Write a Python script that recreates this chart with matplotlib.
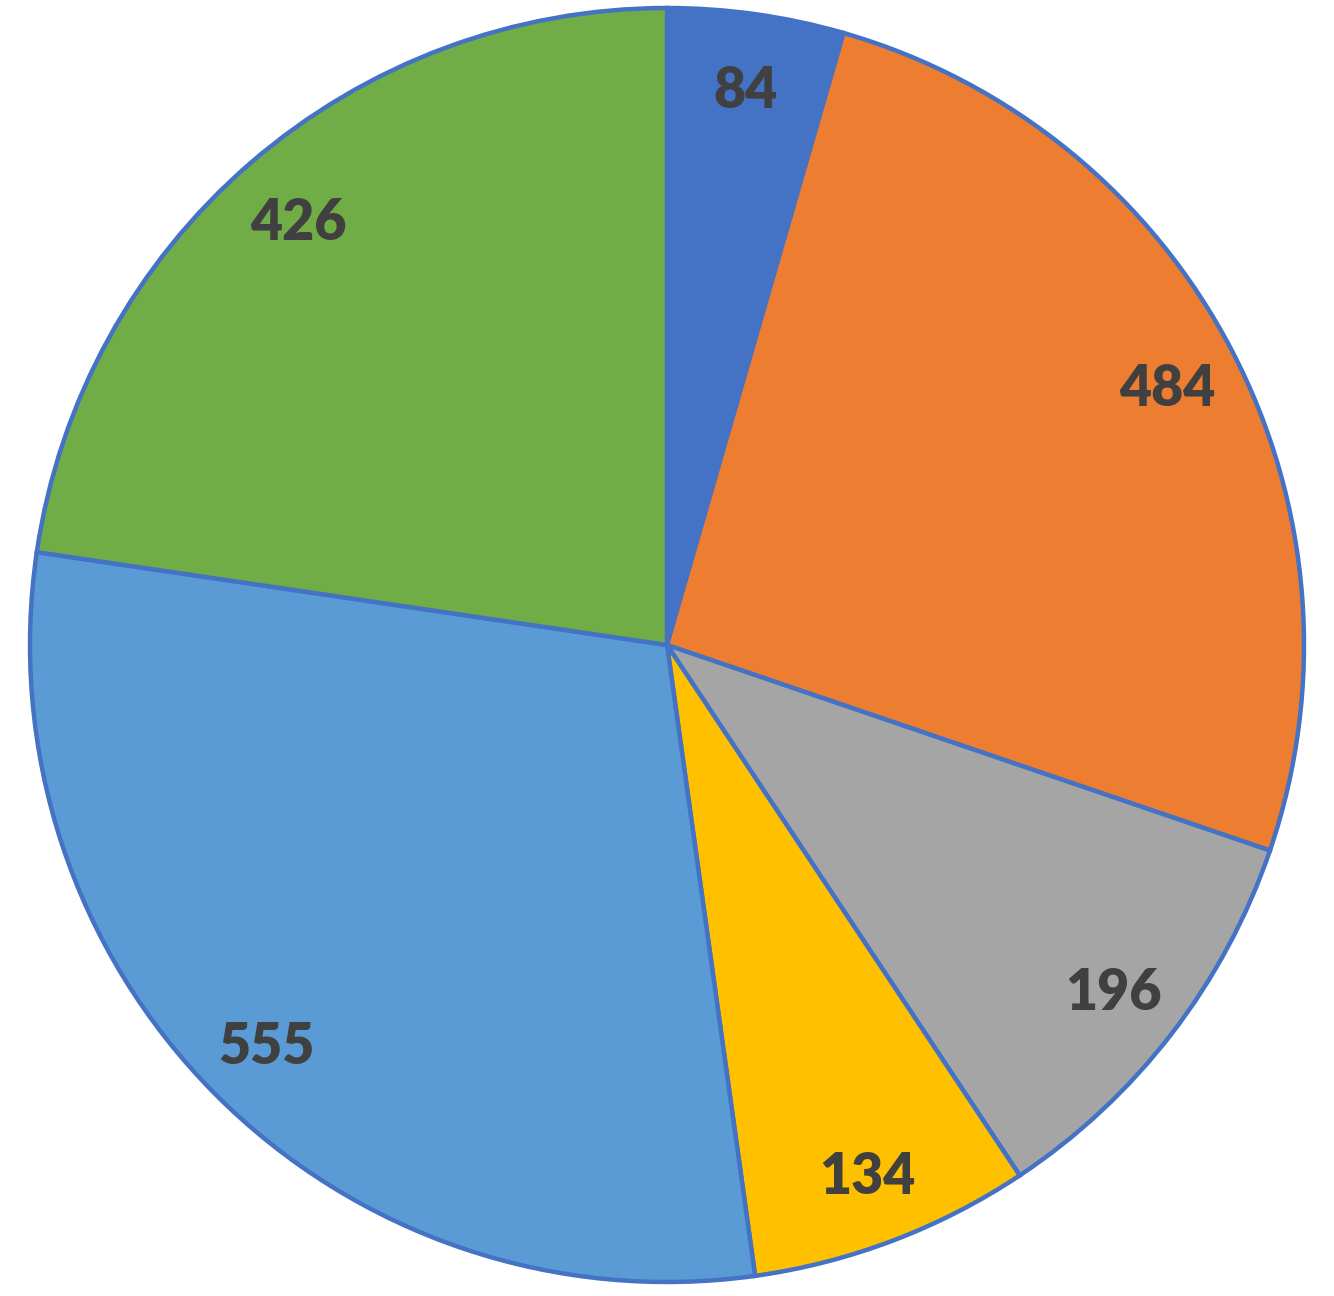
import matplotlib
matplotlib.use("Agg")
import matplotlib.pyplot as plt

values = [84, 484, 196, 134, 555, 426]
labels = ["84", "484", "196", "134", "555", "426"]
colors = ["#4472C4", "#ED7D31", "#A5A5A5", "#FFC000", "#5B9BD5", "#70AD47"]

W, H, DPI = 1334, 1296, 100
fig = plt.figure(figsize=(W / DPI, H / DPI), dpi=DPI)
ax = fig.add_axes([0, 0, 1, 1])

R = 637.0
cx, cy = 667.0, 645.0
wedges, texts = ax.pie(values, colors=colors, startangle=90, counterclock=False,
                       radius=1.0, labels=labels, labeldistance=0.885,
                       wedgeprops=dict(edgecolor="#4472C4", linewidth=3.2),
                       textprops=dict(fontsize=40, fontweight="heavy", color="#404040",
                                      family=["Lato", "DejaVu Sans"]))
for t in texts:
    t.set_horizontalalignment("center")
    t.set_verticalalignment("center_baseline")
ax.set_xlim(-cx / R, (W - cx) / R)
ax.set_ylim(-(H - cy) / R, cy / R)
ax.set_aspect("auto")
ax.axis("off")
fig.savefig("out.png", dpi=DPI, facecolor="white")
